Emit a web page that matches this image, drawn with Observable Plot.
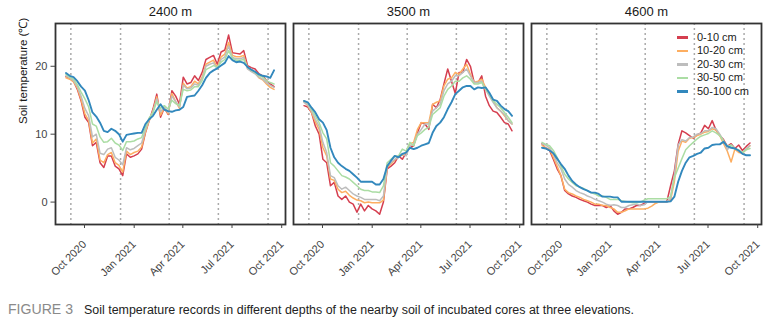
<!DOCTYPE html>
<html><head><meta charset="utf-8">
<script src="https://cdn.jsdelivr.net/npm/d3@7"></script>
<script src="https://cdn.jsdelivr.net/npm/@observablehq/plot@0.6"></script>
<style>
body{margin:0;background:#fff;}
#wrap{position:relative;width:772px;height:328px;font-family:"Liberation Sans",Arial,sans-serif;background:#fff;overflow:hidden;}
#chart svg{display:block;}
#legend{position:absolute;left:677px;top:31px;font-size:11px;color:#1a1a1a;}
#legend .row{height:13.4px;line-height:13.4px;display:flex;align-items:center;white-space:nowrap;}
#legend .key{width:11px;height:2.6px;margin-right:9px;}
#caption{position:absolute;left:0;top:296px;}
</style></head><body>
<div id="wrap"><div id="chart"></div><div id="legend"></div><svg id="caption" width="772" height="32"></svg></div>
<script>
const elevations = ["2400 m", "3500 m", "4600 m"];
const depths = ["0-10 cm", "10-20 cm", "20-30 cm", "30-50 cm", "50-100 cm"];
const depthColors = ["#d53e4f", "#fdae61", "#bdbdbd", "#abdda4", "#3288bd"];
const startDate = "2020-10-01";   // weekly readings from this day
const tickDates = ["2020-10-01", "2021-01-01", "2021-04-01", "2021-07-01", "2021-10-01"];
const gridDates = ["2020-10-10", "2021-01-10", "2021-04-10", "2021-07-10", "2021-10-10"];
const yTicks = [0, 10, 20];
const yLabel = "Soil temperature (\u2103)";
const captionLead = "FIGURE 3";
const captionText = "Soil temperature records in different depths of the nearby soil of incubated cores at three elevations.";

// ---- 2400 m (weekly, deg C) ----
const e2400_d0_10 = [18.5,18.2,17.8,16.6,14.9,12.5,11.7,8.3,8.8,5.8,5.1,6.8,6.8,5.3,4.9,3.9,7.1,6.6,6.8,7.1,7.8,10.2,12.0,13.7,15.9,12.5,13.9,12.9,16.4,
  15.6,14.4,18.4,17.4,17.6,18.6,17.9,19.1,21.0,21.3,21.6,20.3,22.1,22.4,24.6,22.0,21.9,21.8,22.3,20.1,19.8,19.6,18.9,18.6,17.9,17.4,17.0];
const e2400_d10_20 = [18.3,18.1,17.7,16.8,15.1,13.0,12.0,8.7,9.3,6.2,5.8,7.0,7.3,5.8,5.4,4.4,7.5,7.0,7.3,7.5,8.1,10.3,12.0,13.4,15.5,12.8,13.9,13.0,16.0,
  14.8,13.8,17.5,16.8,17.0,17.8,17.4,18.4,20.3,20.6,20.9,19.8,21.4,21.8,23.5,21.6,21.4,21.4,21.6,19.7,19.3,19.0,18.3,18.0,17.4,16.9,16.6];
const e2400_d20_30 = [18.6,18.3,17.9,17.0,15.6,13.8,12.7,9.6,10.0,7.2,7.0,7.8,8.0,6.6,6.2,5.5,8.0,7.7,7.9,8.3,8.7,10.6,12.2,13.3,15.2,13.3,14.0,13.2,15.6,
  14.8,14.0,17.2,16.7,16.8,17.4,17.2,18.2,20.0,20.3,20.5,19.6,21.0,21.4,23.0,21.3,21.1,21.1,21.3,19.6,19.2,18.9,18.4,18.1,17.6,17.2,16.9];
const e2400_d30_50 = [18.8,18.4,18.1,17.3,16.2,15.2,14.0,11.5,11.2,9.6,8.8,8.9,9.4,8.7,8.4,7.6,8.9,8.9,9.0,9.3,9.5,11.0,12.4,13.2,14.8,13.8,14.2,13.7,15.0,
  14.5,14.2,16.6,16.4,16.5,17.0,17.0,17.9,19.5,19.8,20.1,19.9,20.6,21.0,22.3,21.2,20.9,20.9,21.0,19.9,19.4,19.1,18.6,18.4,17.9,17.6,17.4];
const e2400_d50_100 = [19.0,18.6,18.4,17.8,17.0,16.4,15.0,13.2,12.6,11.7,10.5,10.3,10.8,10.5,10.0,8.9,9.9,10.0,10.1,10.2,10.2,11.5,12.2,12.7,13.6,14.4,13.6,13.4,13.3,
  13.5,13.6,14.0,15.5,15.6,15.7,16.4,17.2,18.3,19.0,19.4,19.7,20.1,20.5,21.5,20.9,20.6,20.7,20.5,19.9,19.5,19.2,18.8,18.6,18.5,18.3,19.4];

// ---- 3500 m ----
const e3500_d0_10 = [14.2,14.0,13.2,11.2,10.0,6.3,5.8,2.4,2.9,0.9,0.4,0.9,0.0,-0.3,-1.5,-0.3,-1.3,-0.5,-1.0,-1.3,-1.8,0.0,4.9,5.3,5.8,6.8,6.3,7.3,8.0,
  8.3,10.2,11.7,11.5,10.7,14.4,13.9,15.1,17.4,19.6,17.8,16.0,19.1,19.1,21.0,20.0,17.6,17.6,18.6,15.6,14.2,13.4,13.2,12.5,11.7,11.5,10.5];
const e3500_d10_20 = [14.8,14.2,13.2,11.8,10.7,8.0,6.8,3.4,3.2,1.9,1.4,1.6,1.0,0.6,0.3,0.2,-0.1,0.0,-0.1,-0.1,-0.1,0.3,5.1,5.6,6.2,6.8,6.9,7.2,8.6,
  8.8,10.7,11.7,11.7,11.7,14.4,14.7,14.9,17.1,18.1,18.3,19.1,18.8,19.6,20.3,18.8,17.6,17.8,18.1,16.9,15.9,14.9,13.9,13.4,12.7,12.0,11.5];
const e3500_d20_30 = [14.7,14.3,13.4,12.2,11.2,8.8,7.3,3.9,3.6,2.4,1.9,2.2,1.7,1.2,0.9,0.7,0.4,0.4,0.4,0.4,0.2,0.9,5.3,5.8,6.3,6.6,7.1,6.8,8.3,
  8.5,10.0,10.7,11.5,11.5,13.4,13.9,14.4,16.4,17.4,17.8,18.6,18.6,19.1,19.6,18.6,17.6,17.6,17.8,16.6,15.6,14.7,13.9,13.4,12.9,12.0,11.5];
const e3500_d30_50 = [14.9,14.6,13.7,12.7,11.7,10.2,9.3,5.8,5.3,4.6,3.9,3.7,3.4,2.9,2.4,1.9,1.7,1.7,1.5,1.5,1.4,2.4,5.8,6.3,6.8,6.8,7.8,7.5,8.8,
  8.3,9.8,10.2,10.7,11.0,12.9,13.4,13.9,15.6,16.6,17.1,17.8,17.8,18.3,18.6,18.1,17.4,17.4,17.6,16.6,15.9,14.9,14.4,13.9,13.2,12.5,11.7];
const e3500_d50_100 = [14.9,14.7,13.9,13.2,12.2,11.7,10.6,8.0,6.6,5.8,5.3,4.9,4.6,4.1,3.6,3.0,3.0,3.0,3.0,2.6,2.6,3.4,5.3,6.1,6.8,6.6,7.1,7.3,8.0,
  7.8,8.0,8.3,8.5,8.7,10.2,11.2,11.7,12.5,13.7,14.7,15.9,16.4,16.9,17.1,17.1,16.6,16.9,16.8,16.9,16.1,15.1,14.9,14.2,13.7,13.4,12.7];

// ---- 4600 m ----
const e4600_d0_10 = [8.6,7.9,7.6,6.3,4.9,3.9,1.7,1.2,0.9,0.7,0.4,0.2,0.0,-0.3,-0.5,-0.5,-0.5,-0.8,-0.5,-1.3,-1.8,-1.5,-1.0,-1.0,-0.8,-0.5,-0.5,-0.2,0.05,
  0.05,0.05,0.05,0.05,0.05,2.4,4.6,8.5,10.5,10.2,9.8,9.4,9.9,10.2,11.3,10.8,12.0,10.6,9.8,9.2,8.2,8.6,7.9,8.4,7.6,8.2,8.7];
const e4600_d10_20 = [8.4,8.0,7.8,6.6,5.3,3.9,1.9,1.4,1.2,0.9,0.7,0.4,0.2,0.0,-0.3,-0.3,-0.5,-0.5,-0.8,-1.0,-1.5,-1.5,-1.3,-1.0,-1.0,-1.0,-1.0,-1.0,-0.9,
  -0.6,-0.2,0.05,0.05,0.05,0.3,3.0,7.5,9.0,8.8,9.4,9.5,9.8,10.0,10.3,10.4,10.8,10.6,9.8,8.6,7.5,5.9,7.8,7.3,7.2,7.8,8.3];
const e4600_d20_30 = [8.6,8.4,8.0,7.1,5.8,4.9,3.4,2.6,2.2,1.7,1.4,1.2,0.9,0.7,0.4,0.2,0.0,-0.3,-0.5,-0.4,-0.5,-0.8,-0.8,-0.5,-0.4,-0.3,-0.5,-0.4,0.05,
  0.05,0.05,0.05,0.05,0.05,0.6,4.0,8.4,9.2,9.0,9.5,9.6,10.0,10.1,10.5,10.5,11.0,10.8,10.0,9.0,7.7,8.4,7.9,7.5,7.3,7.9,8.3];
const e4600_d30_50 = [8.8,8.5,8.3,7.6,6.6,5.3,4.1,3.4,2.9,2.4,2.2,2.0,1.7,1.4,1.2,0.9,0.9,0.7,0.4,0.4,0.4,0.2,0.1,0.0,-0.1,-0.1,0.0,0.3,0.5,
  0.5,0.5,0.5,0.5,0.5,0.8,3.6,5.0,6.4,7.7,8.3,8.8,9.3,9.7,9.9,10.1,10.5,10.2,9.8,9.0,8.2,8.4,7.8,7.7,7.3,7.7,7.9];
const e4600_d50_100 = [8.0,7.9,7.6,7.2,6.4,5.6,4.9,3.9,3.1,2.6,2.2,1.9,1.7,1.4,1.4,1.2,0.8,0.8,0.8,0.7,0.7,0.05,0.05,0.05,0.05,0.05,0.05,0.05,0.05,
  0.05,0.05,0.05,0.05,0.05,0.1,0.8,3.0,4.6,5.8,6.6,6.8,7.1,7.3,7.9,8.0,8.4,8.5,8.5,8.9,8.2,8.0,7.9,7.6,7.1,6.9,6.9];

// x-scale window and y-scale window of the panels
const xWindow = ["2020-09-11T14:00:00Z", "2021-11-11T06:00:00Z"];
const yWindow = [-3.3, 26.3];

const series = {
  "2400 m": [e2400_d0_10, e2400_d10_20, e2400_d20_30, e2400_d30_50, e2400_d50_100],
  "3500 m": [e3500_d0_10, e3500_d10_20, e3500_d20_30, e3500_d30_50, e3500_d50_100],
  "4600 m": [e4600_d0_10, e4600_d10_20, e4600_d20_30, e4600_d30_50, e4600_d50_100]
};
const t0 = new Date(startDate + "T00:00:00Z");
const rows = [];
for (const elev of elevations) {
  series[elev].forEach((vals, di) => {
    vals.forEach((v, i) => rows.push({elev, depth: depths[di], date: d3.utcDay.offset(t0, 7 * i), value: v}));
  });
}
const parse = s => new Date(s.length === 10 ? s + "T00:00:00Z" : s);

const chart = Plot.plot({
  width: 772, height: 296,
  marginLeft: 54, marginRight: 10, marginTop: 23, marginBottom: 72,
  style: {fontFamily: "'Liberation Sans', Arial, sans-serif", fontSize: "11px", color: "#1a1a1a", background: "#fff"},
  fx: {domain: elevations, padding: 0.0356, label: null},
  x: {type: "utc", domain: xWindow.map(parse)},
  y: {domain: yWindow},
  color: {domain: depths, range: depthColors},
  marks: [
    Plot.ruleX(gridDates.map(parse), {stroke: "#aaaaaa", strokeWidth: 1.5, strokeDasharray: "2,3"}),
    Plot.line(rows.filter(r => r.depth !== depths[4]), {x: "date", y: "value", z: "depth", stroke: "depth", fx: "elev", strokeWidth: 1.5, strokeLinejoin: "round"}),
    Plot.line(rows.filter(r => r.depth === depths[4]), {x: "date", y: "value", z: "depth", stroke: "depth", fx: "elev", strokeWidth: 1.9, strokeLinejoin: "round"}),
    Plot.frame({stroke: "#333", strokeWidth: 1.8}),
    Plot.axisFx({anchor: "top", label: null, tickSize: 0, tickPadding: 8, fontSize: 13, color: "#1a1a1a"}),
    Plot.axisX({ticks: tickDates.map(parse), tickFormat: d3.utcFormat("%b %Y"), tickSize: 4, tickPadding: 14, tickRotate: -45, textAnchor: "end", lineAnchor: "middle", dx: 18.5, label: null, color: "#444", fontSize: 11}),
    Plot.axisY({ticks: yTicks, tickSize: 4.5, tickPadding: 3.5, label: null, color: "#444", fontSize: 11}),
    Plot.text([yLabel], {fx: [elevations[0]], frameAnchor: "left", rotate: -90, dx: -32, fontSize: 11.5, fill: "#1a1a1a"})
  ]
});
document.getElementById("chart").appendChild(chart);

// legend
const legend = d3.select("#legend");
depths.forEach((d, i) => {
  const row = legend.append("div").attr("class", "row");
  row.append("span").attr("class", "key").style("background", depthColors[i]);
  row.append("span").text(d);
});

// caption
const cap = d3.select("#caption");
cap.append("text").attr("x", 8).attr("y", 18).attr("textLength", 65).attr("lengthAdjust", "spacingAndGlyphs")
  .style("font-family", "'Liberation Sans Narrow', 'Liberation Sans', sans-serif").style("font-size", "14px").style("fill", "#8a8a8a").text(captionLead);
cap.append("text").attr("x", 84).attr("y", 18).attr("textLength", 550).attr("lengthAdjust", "spacingAndGlyphs")
  .style("font-family", "'Liberation Sans Narrow', 'Liberation Sans', sans-serif").style("font-size", "12px").style("fill", "#222").text(captionText);
</script>
</body></html>
